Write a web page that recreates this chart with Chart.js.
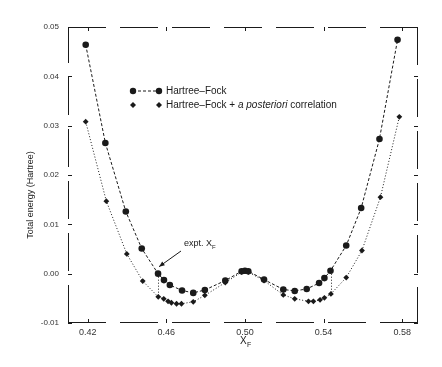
<!DOCTYPE html>
<html><head><meta charset="utf-8">
<script src="https://cdn.jsdelivr.net/npm/chart.js@4"></script>
<style>html,body{margin:0;padding:0;background:#fff}</style>
</head><body>
<canvas id="c" width="442" height="367"></canvas>
<script>
const hfX=[0.419,0.429,0.4394,0.4475,0.4558,0.4588,0.4618,0.468,0.4737,0.4796,0.490,0.4983,0.500,0.5017,0.5097,0.5195,0.5253,0.5314,0.5377,0.5404,0.5435,0.5515,0.5591,0.5684,0.5776];
const hfY=[0.0464,0.0265,0.0126,0.0051,0.0000,-0.0013,-0.0023,-0.0034,-0.0039,-0.0033,-0.0014,0.0005,0.0006,0.0005,-0.0012,-0.0032,-0.0035,-0.0031,-0.0019,-0.0009,0.0006,0.0057,0.0133,0.0273,0.0474];
const corrX=[0.419,0.4295,0.4399,0.448,0.4559,0.4587,0.4609,0.4626,0.4652,0.4677,0.4737,0.4796,0.490,0.4983,0.500,0.5017,0.5097,0.5195,0.5253,0.5323,0.5348,0.5382,0.5404,0.5437,0.5515,0.5595,0.5689,0.5785];
const corrY=[0.0308,0.0147,0.0040,-0.0015,-0.0047,-0.0051,-0.0056,-0.0059,-0.0061,-0.0061,-0.0057,-0.0044,-0.0018,0.0003,0.0005,0.0003,-0.0014,-0.0043,-0.0051,-0.0056,-0.0056,-0.0053,-0.0049,-0.0041,-0.0008,0.0047,0.0155,0.0318];
const exptX=[0.4558,0.5437];
const exptHF=[0.0000,0.0006];
const exptCorr=[-0.0047,-0.0041];
const xTicks=[0.42,0.46,0.50,0.54,0.58];
const xTickLabels=["0.42","0.46","0.50","0.54","0.58"];
const yTicks=[-0.01,0.00,0.01,0.02,0.03,0.04,0.05];
const yTickLabels=["-0.01","0.00","0.01","0.02","0.03","0.04","0.05"];
const seriesNames=["Hartree\u2013Fock","Hartree\u2013Fock + "];

const FONT="'Liberation Sans', Arial, sans-serif";
const INK="#1a1a1a";
const FRAME_DASH=[38,14];

const decor={
  id:'decor',
  afterDraw(chart){
    const ctx=chart.ctx, ca=chart.chartArea, xs=chart.scales.x, ys=chart.scales.y;
    ctx.save();
    // frame (fragmented, as in the scanned original)
    ctx.strokeStyle=INK; ctx.lineWidth=1;
    ctx.setLineDash(FRAME_DASH);
    ctx.beginPath();
    ctx.moveTo(ca.left,ca.top+0.5); ctx.lineTo(ca.right,ca.top+0.5);
    ctx.moveTo(ca.right-0.5,ca.top); ctx.lineTo(ca.right-0.5,ca.bottom);
    ctx.moveTo(ca.left+0.5,ca.bottom); ctx.lineTo(ca.left+0.5,ca.top);
    ctx.moveTo(ca.right,ca.bottom-0.5); ctx.lineTo(ca.left,ca.bottom-0.5);
    ctx.stroke();
    ctx.setLineDash([]);
    // inward ticks
    ctx.beginPath();
    xTicks.forEach(v=>{const px=Math.round(xs.getPixelForValue(v))+0.5; ctx.moveTo(px,ca.bottom); ctx.lineTo(px,ca.bottom-4); ctx.moveTo(px,ca.top); ctx.lineTo(px,ca.top+4);});
    yTicks.forEach(v=>{const py=Math.round(ys.getPixelForValue(v))+0.5; ctx.moveTo(ca.left,py); ctx.lineTo(ca.left+4,py); ctx.moveTo(ca.right,py); ctx.lineTo(ca.right-4,py);});
    ctx.stroke();
    // vertical dotted lines at experimental X_F
    ctx.setLineDash([1,2]);
    ctx.beginPath();
    exptX.forEach((v,i)=>{const px=Math.round(xs.getPixelForValue(v))+0.5; ctx.moveTo(px,ys.getPixelForValue(exptHF[i])); ctx.lineTo(px,ys.getPixelForValue(exptCorr[i]));});
    ctx.stroke();
    ctx.setLineDash([]);
    // expt label and arrow
    const tx=xs.getPixelForValue(exptX[0])+1, ty=ys.getPixelForValue(exptHF[0])-7;
    ctx.fillStyle=INK;
    ctx.font="9px "+FONT; ctx.textBaseline='alphabetic'; ctx.textAlign='left';
    ctx.fillText("expt. X",184,246);
    const w=ctx.measureText("expt. X").width;
    ctx.font="6px "+FONT; ctx.fillText("F",184+w,249);
    ctx.beginPath(); ctx.moveTo(181,251); ctx.lineTo(tx,ty); ctx.stroke();
    const ang=Math.atan2(ty-251,tx-181);
    ctx.beginPath(); ctx.moveTo(tx,ty);
    ctx.lineTo(tx-6*Math.cos(ang-0.4),ty-6*Math.sin(ang-0.4));
    ctx.lineTo(tx-6*Math.cos(ang+0.4),ty-6*Math.sin(ang+0.4));
    ctx.closePath(); ctx.fill();
    // legend
    const r1=91, r2=105;
    ctx.lineWidth=1;
    ctx.setLineDash([3,2]);
    ctx.beginPath(); ctx.moveTo(133,r1); ctx.lineTo(159,r1); ctx.stroke();
    ctx.setLineDash([]);
    [133,159].forEach(px=>{ctx.beginPath(); ctx.arc(px,r1,3.2,0,Math.PI*2); ctx.fill();});
    [133,159].forEach(px=>{ctx.beginPath(); ctx.moveTo(px,r2-3); ctx.lineTo(px+3,r2); ctx.lineTo(px,r2+3); ctx.lineTo(px-3,r2); ctx.closePath(); ctx.fill();});
    ctx.font="10px "+FONT; ctx.textBaseline='middle';
    ctx.fillText(seriesNames[0],166,r1);
    let x=166;
    ctx.fillText(seriesNames[1],x,r2); x+=ctx.measureText(seriesNames[1]).width;
    ctx.font="italic 10px "+FONT; ctx.fillText("a posteriori",x,r2); x+=ctx.measureText("a posteriori").width;
    ctx.font="10px "+FONT; ctx.fillText(" correlation",x,r2);
    // axis titles
    ctx.font="9px "+FONT; ctx.textAlign='center';
    ctx.save(); ctx.translate(31,(ca.top+ca.bottom)/2+20); ctx.rotate(-Math.PI/2);
    ctx.fillText("Total energy (Hartree)",0,0); ctx.restore();
    ctx.font="10px "+FONT; ctx.textAlign='left'; ctx.textBaseline='alphabetic';
    const xc=xs.getPixelForValue(0.50);
    ctx.fillText("X",xc-5,344); ctx.font="7px "+FONT; ctx.fillText("F",xc+2,347);
    ctx.restore();
  }
};

new Chart(document.getElementById('c'),{
  type:'line',
  data:{datasets:[
    {label:seriesNames[0],data:hfX.map((x,i)=>({x,y:hfY[i]})),borderColor:INK,backgroundColor:INK,borderWidth:1,borderDash:[3,2],pointStyle:'circle',pointRadius:3.3,pointBorderWidth:0,tension:0},
    {label:seriesNames[1]+"a posteriori correlation",data:corrX.map((x,i)=>({x,y:corrY[i]})),borderColor:INK,backgroundColor:INK,borderWidth:1,borderDash:[1,2],pointStyle:'rectRot',pointRadius:2.9,pointBorderWidth:0,tension:0}
  ]},
  options:{
    responsive:false,animation:false,
    layout:{padding:{top:27,right:24,left:0,bottom:0}},
    plugins:{legend:{display:false},tooltip:{enabled:false}},
    scales:{
      x:{type:'linear',min:0.41,max:0.588,
        afterBuildTicks:s=>{s.ticks=xTicks.map(v=>({value:v}));},
        afterFit:s=>{s.height=44;},
        grid:{drawOnChartArea:false,drawTicks:false},
        border:{display:false},
        ticks:{padding:4,color:'#333',font:{family:FONT,size:9},maxRotation:0,callback:(v,i)=>xTickLabels[i]}
      },
      y:{type:'linear',min:-0.01,max:0.05,
        afterBuildTicks:s=>{s.ticks=yTicks.map(v=>({value:v}));},
        afterFit:s=>{s.width=68;},
        grid:{drawOnChartArea:false,drawTicks:false},
        border:{display:false},
        ticks:{padding:9,color:'#333',font:{family:FONT,size:8},callback:(v,i)=>yTickLabels[i]}
      }
    }
  },
  plugins:[decor]
});
</script>
</body></html>
